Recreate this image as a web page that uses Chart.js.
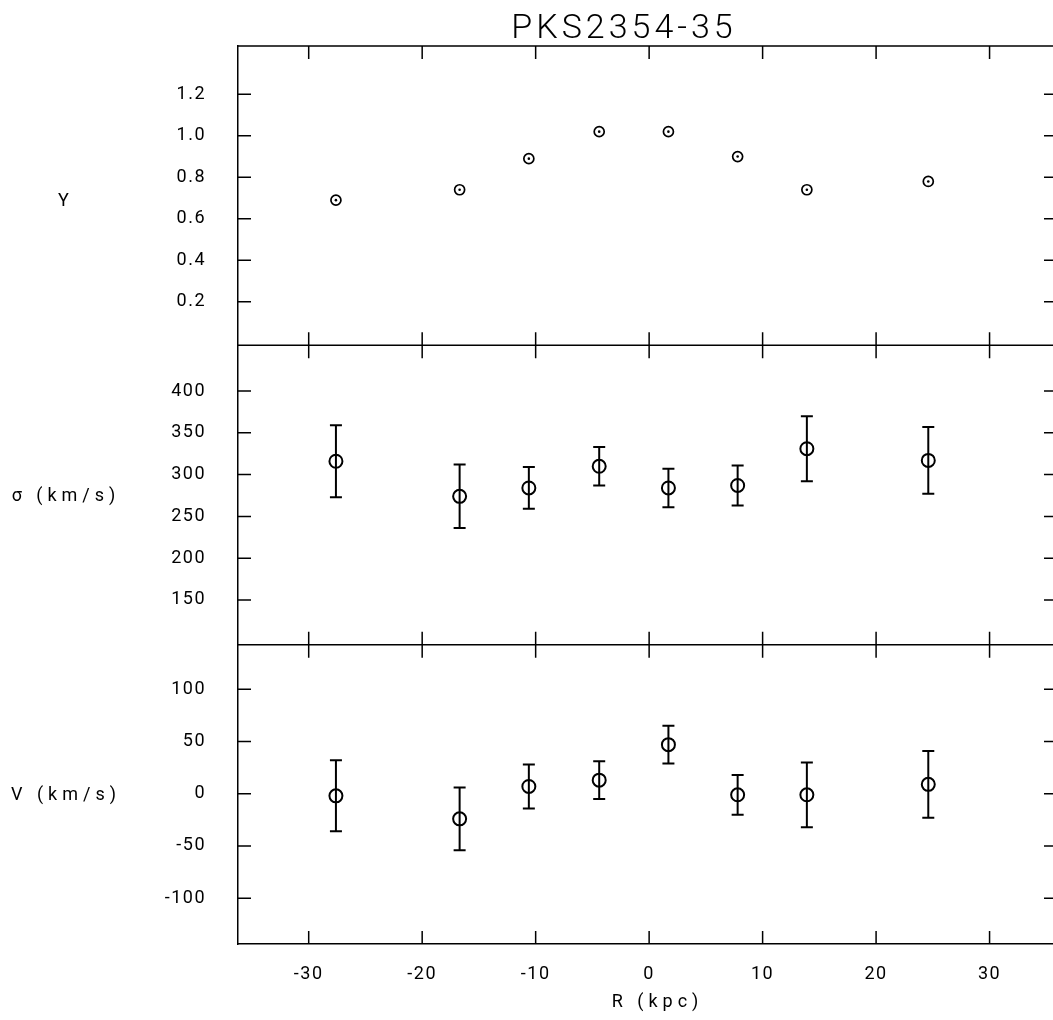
<!DOCTYPE html>
<html>
<head>
<meta charset="utf-8">
<script src="https://cdn.jsdelivr.net/npm/chart.js@4/dist/chart.umd.min.js"></script>
<style>
  html, body { margin: 0; padding: 0; background: #fff; overflow: hidden; }
  #wrap { width: 1053px; height: 1020px; position: relative; }
  canvas { display: block; }
</style>
</head>
<body>
<div id="wrap"><canvas id="c" width="1053" height="1020"></canvas></div>
<script>
// ---- data ----
const chartTitle = 'PKS2354-35';
const R = [-27.6, -16.7, -10.6, -4.4, 1.7, 7.8, 13.9, 24.6];          // kpc
const Yvals = [0.69, 0.74, 0.89, 1.02, 1.02, 0.90, 0.74, 0.78];
const sigma = [316, 274, 284, 310, 284, 287, 331, 317];              // km/s
const sigmaErr = [43, 38, 25, 23, 23, 24, 39, 40];
const vel = [-2, -24, 7, 13, 47, -1, -1, 9];                          // km/s
const velErr = [34, 30, 21, 18, 18, 19, 31, 32];
const xTicks = [-30, -20, -10, 0, 10, 20, 30];
const yTicksY = [0.2, 0.4, 0.6, 0.8, 1.0, 1.2];
const yTicksSigma = [150, 200, 250, 300, 350, 400];
const yTicksV = [-100, -50, 0, 50, 100];
const panelLabels = ['Y', 'σ (km/s)', 'V (km/s)'];
const xTitle = 'R (kpc)';

// ---- helpers building library data from the arrays ----
function pts(ys) { return R.map((x, i) => ({ x: x, y: ys[i] })); }
function bars(ys, es) {
  const d = [];
  R.forEach((x, i) => { d.push({ x: x, y: ys[i] - es[i] }, { x: x, y: ys[i] + es[i] }, { x: x, y: null }); });
  return d;
}
const BLACK = '#000';
const TICK_FONT = { family: 'Roboto', size: 18, weight: '400' };

function yScale(ticksArr, min, max, weight, fmt) {
  return {
    type: 'linear', position: 'left', stack: 'panels', stackWeight: 1, weight: weight,
    min: min, max: max, offset: false,
    afterBuildTicks: s => { s.ticks = ticksArr.map(v => ({ value: v })); },
    afterFit: s => { s.width = 238; },
    grid: { display: false, drawTicks: false },
    border: { display: true, color: BLACK, width: 1.5 },
    ticks: { color: BLACK, font: TICK_FONT, padding: 32, autoSkip: false, callback: fmt }
  };
}

const framePlugin = {
  id: 'frame',
  beforeDraw(chart) { chart.ctx.letterSpacing = '1.5px'; },
  afterDraw(chart) {
    const ctx = chart.ctx, a = chart.chartArea, xs = chart.scales.x;
    const ys = [chart.scales.yY, chart.scales.yS, chart.scales.yV];
    const TL = 13;
    ctx.save();
    ctx.strokeStyle = BLACK;
    ctx.lineWidth = 1.5;
    ctx.beginPath();
    ctx.moveTo(a.left, a.top); ctx.lineTo(a.right, a.top);
    ys.slice(0, 2).forEach(s => { ctx.moveTo(a.left, s.bottom); ctx.lineTo(a.right, s.bottom); });
    xs.ticks.forEach(t => {
      const px = xs.getPixelForValue(t.value);
      ctx.moveTo(px, a.top); ctx.lineTo(px, a.top + TL);
      ys.slice(0, 2).forEach(s => { ctx.moveTo(px, s.bottom - TL); ctx.lineTo(px, s.bottom + TL); });
      ctx.moveTo(px, a.bottom); ctx.lineTo(px, a.bottom - TL);
    });
    ys.forEach(s => s.ticks.forEach(t => {
      const py = s.getPixelForValue(t.value);
      ctx.moveTo(a.left, py); ctx.lineTo(a.left + TL, py);
      ctx.moveTo(a.right - 9, py); ctx.lineTo(a.right, py);
    }));
    ctx.stroke();

    ctx.fillStyle = BLACK;
    // main title
    ctx.letterSpacing = '4px';
    ctx.font = '300 34px Roboto';
    ctx.textAlign = 'center';
    ctx.textBaseline = 'alphabetic';
    ctx.fillText(chartTitle, 624, 37.5);
    // panel labels (horizontal, left of each panel)
    ctx.letterSpacing = '5px';
    ctx.font = '400 18px Roboto';
    ctx.textBaseline = 'middle';
    ys.forEach((s, i) => {
      const cy = (s.top + s.bottom) / 2 + (i === 0 ? 6 : 1);
      ctx.fillText(panelLabels[i], 66, cy);
    });
    // x axis title
    ctx.fillText(xTitle, (a.left + a.right) / 2 + 12, 1002);
    ctx.restore();
  }
};

const openCircle = { showLine: false, pointStyle: 'circle', borderColor: BLACK, backgroundColor: 'rgba(0,0,0,0)' };

new Chart(document.getElementById('c'), {
  type: 'scatter',
  data: {
    datasets: [
      Object.assign({}, openCircle, { label: 'Y', data: pts(Yvals), yAxisID: 'yY', pointRadius: 5, borderWidth: 1.7 }),
      { label: 'Y dot', data: pts(Yvals), yAxisID: 'yY', showLine: false, pointStyle: 'circle', pointRadius: 1.3, borderWidth: 0, backgroundColor: BLACK },
      { label: 'sigma err', data: bars(sigma, sigmaErr), yAxisID: 'yS', showLine: true, spanGaps: false,
        borderColor: BLACK, borderWidth: 2, pointStyle: 'line', pointRadius: 6, pointBorderWidth: 2, pointBorderColor: BLACK },
      Object.assign({}, openCircle, { label: 'sigma', data: pts(sigma), yAxisID: 'yS', pointRadius: 6.5, borderWidth: 2 }),
      { label: 'V err', data: bars(vel, velErr), yAxisID: 'yV', showLine: true, spanGaps: false,
        borderColor: BLACK, borderWidth: 2, pointStyle: 'line', pointRadius: 6, pointBorderWidth: 2, pointBorderColor: BLACK },
      Object.assign({}, openCircle, { label: 'V', data: pts(vel), yAxisID: 'yV', pointRadius: 6.5, borderWidth: 2 })
    ]
  },
  options: {
    responsive: false,
    animation: false,
    events: [],
    layout: { autoPadding: false, padding: { top: 46, left: 0, right: 0, bottom: 0 } },
    plugins: { legend: { display: false }, title: { display: false }, tooltip: { enabled: false } },
    scales: {
      x: {
        type: 'linear', position: 'bottom', min: -36.23, max: 35.59,
        afterBuildTicks: s => { s.ticks = xTicks.map(v => ({ value: v })); },
        afterFit: s => { s.height = 76; },
        grid: { display: false, drawTicks: false },
        border: { display: true, color: BLACK, width: 1.5 },
        ticks: { color: BLACK, font: TICK_FONT, padding: 20, maxRotation: 0, autoSkip: false }
      },
      yY: yScale(yTicksY, -0.01, 1.433, 3, v => Number(v).toFixed(1)),
      yS: yScale(yTicksSigma, 96.4, 454.8, 2, v => String(v)),
      yV: yScale(yTicksV, -143.8, 142.7, 1, v => String(v))
    }
  },
  plugins: [framePlugin]
});
</script>
</body>
</html>
